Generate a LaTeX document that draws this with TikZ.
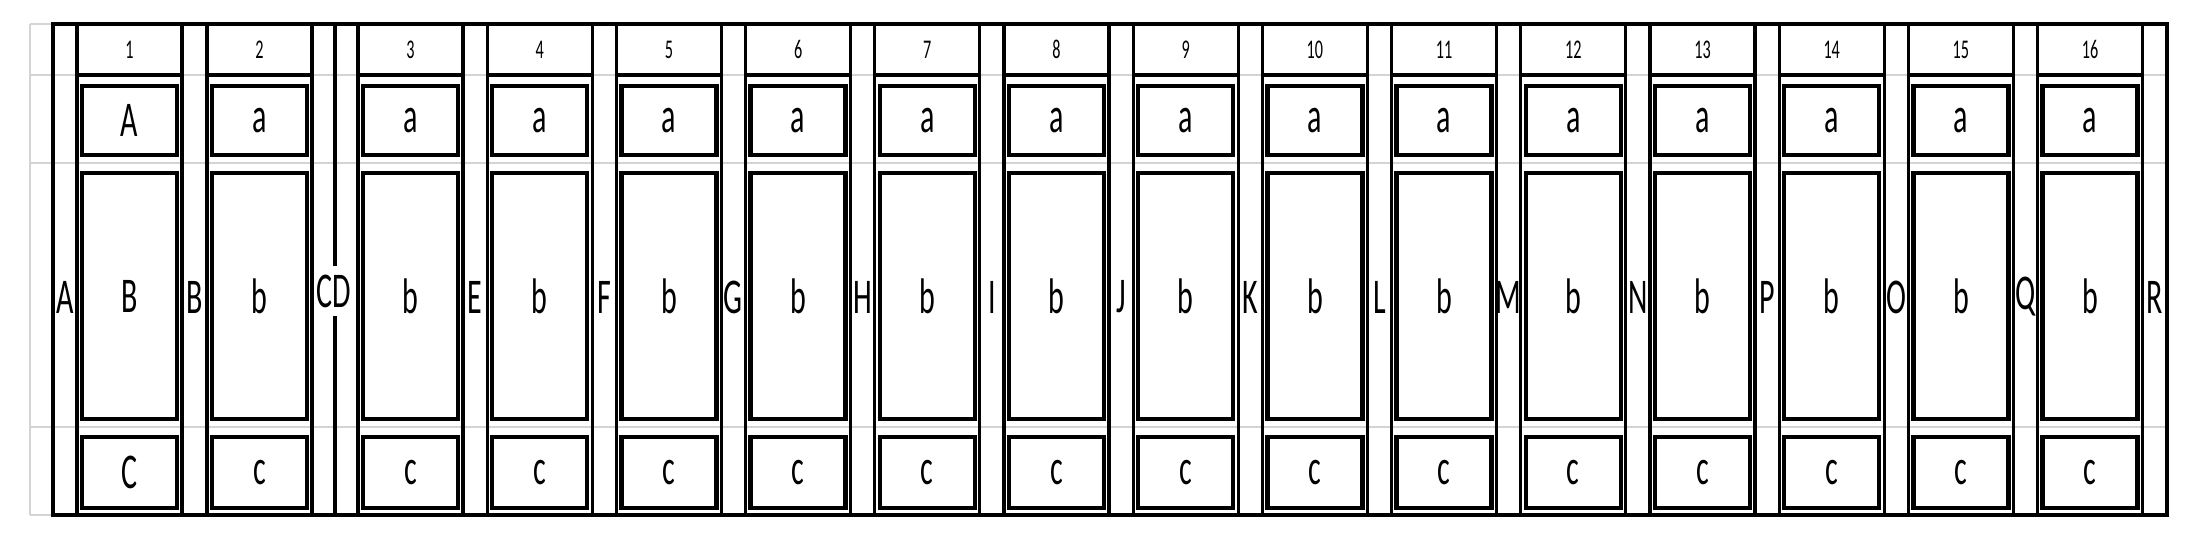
\documentclass[tikz,border=0pt]{standalone}
\usepackage{fontspec}
\newfontfamily\labfont[FakeStretch=0.6]{Carlito}
\begin{document}
\begin{tikzpicture}[x=0.5pt,y=-0.5pt,
  gridline/.style={draw=black!17, line width=1pt},
  frameline/.style={draw, line width=1.6pt},
  colbody/.style={draw, line width=1.6pt, inner sep=0pt, minimum width=105*0.5pt, minimum height=440*0.5pt},
  hdr/.style={draw, line width=1.6pt, inner sep=0pt, minimum width=105*0.5pt, minimum height=51*0.5pt, font=\labfont\fontsize{13.5}{14}\selectfont},
  cell/.style={draw, line width=2.2pt, inner sep=0pt, minimum width=95*0.5pt, font=\labfont\fontsize{25}{26}\selectfont},
  abox/.style={cell, minimum height=69*0.5pt},
  bbox/.style={cell, minimum height=246*0.5pt},
  cbox/.style={cell, minimum height=71*0.5pt},
  gaplab/.style={inner sep=0pt, font=\labfont\fontsize{25}{26}\selectfont}
]
\useasboundingbox (0,0) rectangle (2203,552);
% grey spreadsheet grid
\draw[gridline] (30,24) -- (30,515);
\draw[gridline] (30,24) -- (53,24);
\draw[gridline] (30,515) -- (53,515);
\draw[gridline] (30,75) -- (2167,75);
\draw[gridline] (30,163) -- (2167,163);
\draw[gridline] (30,427) -- (2167,427);
% outer frame
\node[frameline, inner sep=0pt, minimum width=2114*0.5pt, minimum height=491*0.5pt] (frame) at (1110,269.5) {};
% columns
\foreach \k/\L/\ta/\tb/\tc in {1/77/A/B/C, 2/207/a/b/c, 3/358/a/b/c, 4/487.2/a/b/c, 5/616.4/a/b/c, 6/745.6/a/b/c, 7/874.8/a/b/c, 8/1004/a/b/c, 9/1133.2/a/b/c, 10/1262.4/a/b/c, 11/1391.6/a/b/c, 12/1520.8/a/b/c, 13/1650/a/b/c, 14/1779.2/a/b/c, 15/1908.4/a/b/c, 16/2037.6/a/b/c}{
  \pgfmathsetmacro\cx{\L+52.5}
  \node[colbody] (col\k) at (\cx,295) {};
  \node[hdr] (h\k) at (\cx,49.5) {\k};
  \node[abox] (a\k) at (\cx,120.5) {\ta};
  \node[bbox] (b\k) at (\cx,296) {\tb};
  \node[cbox] (c\k) at (\cx,472.5) {\tc};
}
% gap labels
\node[gaplab] (gA) at (65,297) {A};
\node[gaplab] (gB) at (195,297) {B};
\foreach \L/\t in {358/E, 487.2/F, 616.4/G, 745.6/H, 874.8/I, 1004/J, 1133.2/K, 1262.4/L, 1391.6/M, 1520.8/N, 1650/P, 1779.2/O, 1908.4/Q, 2037.6/R}{
  \pgfmathsetmacro\gx{\L+117}
  \node[gaplab] (g\t) at (\gx,297) {\t};
}
% CD divider
\node[gaplab, inner ysep=4pt] (gCD) at (334,291) {CD};
\coordinate (cdtop) at (335,24);
\coordinate (cdbot) at (335,515);
\draw[frameline] (cdtop) -- (cdtop |- gCD.north);
\draw[frameline] (cdbot |- gCD.south) -- (cdbot);
\end{tikzpicture}
\end{document}
